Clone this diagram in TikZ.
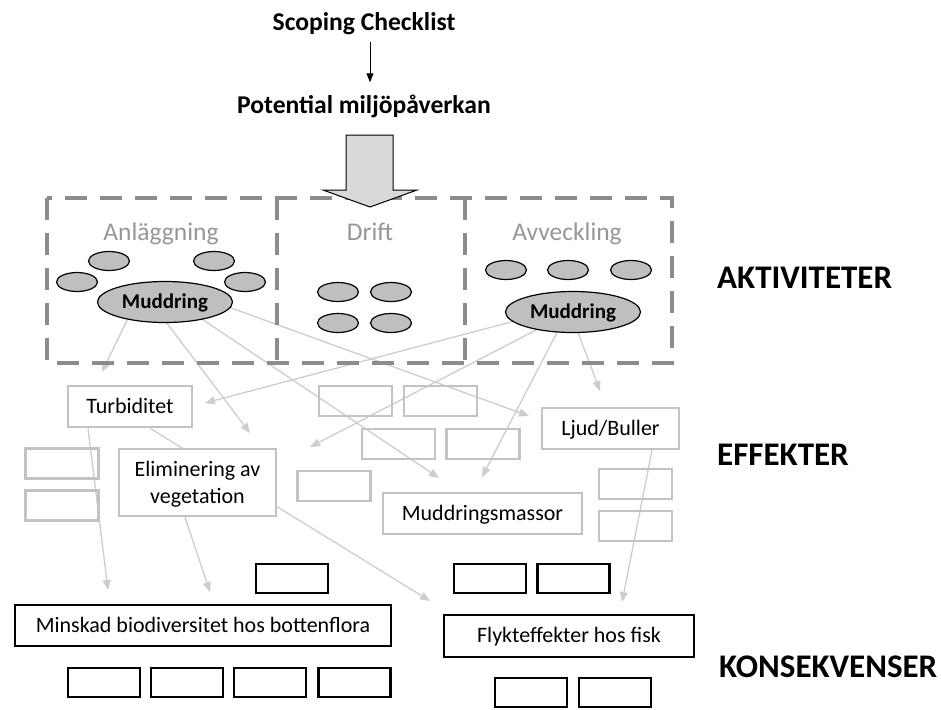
\documentclass[tikz,border=0pt]{standalone}
\usepackage{fontspec}
\setmainfont{Carlito}
\usetikzlibrary{shapes.geometric,arrows.meta}
\definecolor{phasegray}{RGB}{140,140,140}
\definecolor{phasetext}{RGB}{150,150,150}
\definecolor{effgray}{RGB}{195,195,195}
\definecolor{linkgray}{RGB}{205,205,205}
\definecolor{aktfill}{RGB}{191,191,191}
\definecolor{blockfill}{RGB}{217,217,217}
\pgfdeclarelayer{links}
\pgfsetlayers{links,main}

\tikzset{
  akt/.style={ellipse,draw=black,line width=1.2pt,fill=aktfill,inner sep=0pt,minimum width=41pt,minimum height=19pt},
  muddakt/.style={akt,minimum width=135pt,minimum height=41pt,font=\fontsize{21}{25}\selectfont\bfseries,text height=13.2pt,text depth=0pt},
  eff/.style={draw=effgray,line width=2.5pt,inner sep=0pt,minimum width=73pt,minimum height=30pt},
  efftext/.style={eff,fill=white,font=\fontsize{22}{26.4}\selectfont,text height=13.9pt,text depth=0pt},
  kons/.style={draw=black,line width=2.5pt,inner sep=0pt,minimum width=72pt,minimum height=29pt},
  konstext/.style={kons,fill=white,font=\fontsize{22}{26.4}\selectfont,text height=13.9pt,text depth=0pt},
  link/.style={linkgray,line width=1.3pt,-{Triangle[length=10pt,width=8pt]}},
  phase/.style={phasegray,line width=3.3pt,dash pattern=on 22pt off 13pt},
  phaselabel/.style={anchor=base,text=phasetext,font=\fontsize{25.5}{30}\selectfont},
  title/.style={anchor=base,inner sep=0pt,font=\fontsize{25.6}{30}\selectfont\bfseries},
  level/.style={anchor=base west,inner sep=0pt,font=\fontsize{33}{40}\selectfont\bfseries},
}

\begin{document}
\begin{tikzpicture}[x=1pt,y=-1pt]
  \useasboundingbox (0,0) rectangle (941,709);

  % titel
  \node[title] (scope) at (364,31) {Scoping Checklist};
  \node[title] (potential) at (364,113) {Potential miljöpåverkan};
  \draw[-{Triangle[length=9pt,width=7pt]},line width=1pt,shorten <=6pt,shorten >=12pt]
    ([xshift=6pt]scope.south) -- ([xshift=6pt]potential.north);

  % faser
  \draw[phase] (47,198) rectangle (672,363);
  \draw[phase] (277,198) -- (277,363);
  \draw[phase] (465,198) -- (465,363);
  \draw[fill=blockfill,line width=1pt] (346,135) -- (393,135) -- (393,190) -- (417,190)
    -- (370,207) -- (323,190) -- (346,190) -- cycle;
  \node[phaselabel] (labAnl) at (161,240) {Anläggning};
  \node[phaselabel] (labDrift) at (370,240) {Drift};
  \node[phaselabel] (labAvv) at (567,240) {Avveckling};

  % aktiviteter
  \foreach \n/\x/\y in {a1/109/261, a2/77/282, a3/214/261, a4/245/282,
                        d1/338/292, d2/391/292, d3/338/323, d4/391/323,
                        v1/506/270, v2/568/270, v3/631/270}
    \node[akt] (akt\n) at (\x,\y) {};
  \node[muddakt] (muddA) at (165,302) {Muddring};
  \node[muddakt] (muddB) at (573,312) {Muddring};

  % effekter
  \foreach \n/\x/\y in {1/62/463.5, 2/62/505.5, 3/355.5/401, 4/440.5/401, 5/398.5/444,
                        6/483/444, 7/334/486, 8/635.5/484, 9/635.5/526}
    \node[eff] (eff\n) at (\x,\y) {};
  \node[efftext,minimum width=124pt,minimum height=41pt] (effTurb) at (130,406.5) {Turbiditet};
  \node[efftext,minimum width=157pt,minimum height=67pt,text height=,align=center] (effElim) at (197.5,482.5) {Eliminering av\\vegetation};
  \node[efftext,minimum width=199pt,minimum height=41pt] (effMass) at (482.5,513.5) {Muddringsmassor};
  \node[efftext,minimum width=137pt,minimum height=41pt] (effLjud) at (610.5,428.5) {Ljud/Buller};

  % konsekvenser
  \foreach \n/\x/\y in {1/292/578.5, 2/490/578.5, 3/573.5/578.5, 4/104/682.5, 5/187/682.5,
                        6/270/682.5, 7/354.5/682.5, 8/531/692.5, 9/615/692.5}
    \node[kons] (kons\n) at (\x,\y) {};
  \node[konstext,minimum width=376pt,minimum height=41pt] (konsBio) at (203,625.5) {Minskad biodiversitet hos bottenflora};
  \node[konstext,minimum width=250pt,minimum height=42pt] (konsFisk) at (569,636) {Flykteffekter hos fisk};

  % nivåer
  \node[level] (lvlAkt) at (717,288) {AKTIVITETER};
  \node[level] (lvlEff) at (717,465) {EFFEKTER};
  \node[level] (lvlKons) at (719,677) {KONSEKVENSER};

  % pilar
  \coordinate (inTurbA) at (102,372);
  \coordinate (inElimA) at (250,433);
  \coordinate (inMassA) at (439,478);
  \coordinate (inLjudA) at (529,416);
  \coordinate (inTurbB) at (205,403);
  \coordinate (inMidB) at (310,447);
  \coordinate (inMassB) at (482,477);
  \coordinate (inLjudB) at (600,391);
  \coordinate (inBioT) at (108,590);
  \coordinate (inFiskT) at (430,601);
  \coordinate (inBioE) at (210,592);
  \coordinate (inFiskL) at (622,602);
  \begin{pgfonlayer}{links}
    \draw[link] (muddA.205) -- (inTurbA);
    \draw[link] (muddA.275) -- (inElimA);
    \draw[link] (muddA.335) -- (inMassA);
    \draw[link] (muddA.355) -- (inLjudA);
    \draw[link] (muddB.189) -- (inTurbB);
    \draw[link] (muddB.206) -- (inMidB);
    \draw[link] (muddB.232) -- (inMassB);
    \draw[link] (muddB.284) -- (inLjudB);
    \draw[link] ([xshift=-42pt]effTurb.south) -- (inBioT);
    \draw[link] ([xshift=20pt]effTurb.south) -- (inFiskT);
    \draw[link] ([xshift=-12.5pt]effElim.south) -- (inBioE);
    \draw[link] ([xshift=41.5pt]effLjud.south) -- (inFiskL);
  \end{pgfonlayer}
\end{tikzpicture}
\end{document}
